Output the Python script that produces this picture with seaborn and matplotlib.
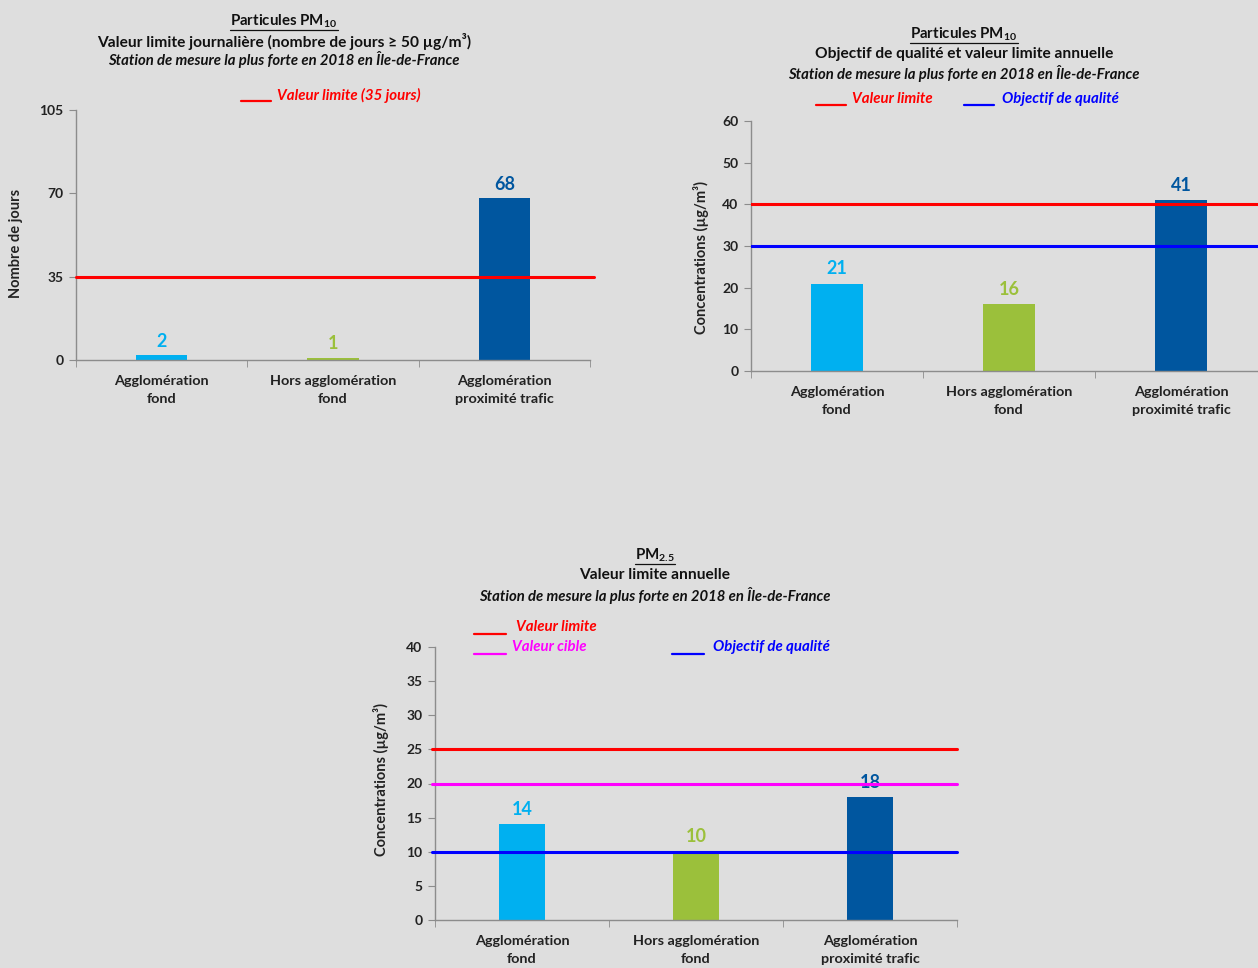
import matplotlib
matplotlib.use("Agg")
import matplotlib.pyplot as plt
import seaborn as sns
import pandas as pd
from matplotlib.lines import Line2D

# ---------------- data ----------------
categories = ["Agglomération\nfond", "Hors agglomération\nfond", "Agglomération\nproximité trafic"]
bar_colors = ["#00B0F0", "#9BC03B", "#00569F"]

pm10_days = [2, 1, 68]
pm10_days_limit = 35
pm10_days_ticks = [0, 35, 70, 105]

pm10_annual = [21, 16, 41]
pm10_annual_limit = 40
pm10_annual_quality = 30
pm10_annual_ticks = [0, 10, 20, 30, 40, 50, 60]

pm25_annual = [14, 10, 18]
pm25_limit = 25
pm25_target = 20
pm25_quality = 10
pm25_ticks = [0, 5, 10, 15, 20, 25, 30, 35, 40]

# ---------------- style ----------------
BG = "#DEDEDE"
sns.set_style("ticks")
plt.rcParams["font.family"] = ["Lato", "DejaVu Sans"]
plt.rcParams["mathtext.fontset"] = "custom"
plt.rcParams["mathtext.rm"] = "Lato:bold"
plt.rcParams["mathtext.it"] = "Lato:bold:italic"
plt.rcParams["mathtext.bf"] = "Lato:bold"

W, H = 1258, 968
fig = plt.figure(figsize=(W / 100, H / 100), dpi=100, facecolor=BG)


def rect(x0, y_top, x1, y_bottom):
    return [x0 / W, 1 - y_bottom / H, (x1 - x0) / W, (y_bottom - y_top) / H]


def fx(x):
    return x / W


def fy(y):
    return 1 - y / H


def draw(ax, values, ticks, ylabel, ylabel_xy, width=0.3, label_offset=12):
    df = pd.DataFrame({"cat": categories, "val": values})
    sns.barplot(data=df, x="cat", y="val", hue="cat", palette=bar_colors,
                width=width, legend=False, ax=ax, saturation=1, errorbar=None,
                linewidth=0)
    ax.set_facecolor(BG)
    ax.set_xlim(-0.5, 2.5)
    ax.set_ylim(ticks[0], ticks[-1])
    ax.set_yticks(ticks)
    ax.set_xlabel("")
    ax.set_ylabel(ylabel, fontsize=10.5, fontweight="bold", color="#222222")
    ax.yaxis.set_label_coords(*ylabel_xy)
    for s in ["top", "right"]:
        ax.spines[s].set_visible(False)
    for s in ["left", "bottom"]:
        ax.spines[s].set_color("#8C8C8C")
        ax.spines[s].set_linewidth(1.0)
    ax.set_xticks([-0.5, 0.5, 1.5, 2.5], minor=True)
    ax.tick_params(axis="x", which="major", length=0, pad=11, labelsize=10.4, labelcolor="#222222")
    ax.tick_params(axis="x", which="minor", length=5, color="#8C8C8C", direction="out")
    ax.tick_params(axis="y", length=5, color="#8C8C8C", direction="out", pad=4,
                   labelsize=10, labelcolor="#222222")
    for lab in ax.get_xticklabels():
        lab.set_fontweight("bold")
        lab.set_linespacing(1.55)
    for lab in ax.get_yticklabels():
        lab.set_fontweight("bold")
    for p, v, c in zip(ax.patches, values, bar_colors):
        ax.annotate(str(v), (p.get_x() + p.get_width() / 2, v), xytext=(0, label_offset),
                    textcoords="offset pixels", ha="center", va="center",
                    color=c, fontsize=13, fontweight="bold")


def titles(cx, ys, line1, line2, line3):
    t1 = fig.text(fx(cx), fy(ys[0]), line1, ha="center", va="center",
                  fontsize=10.8, fontweight="bold", color="#111111")
    fig.text(fx(cx), fy(ys[1]), line2, ha="center", va="center",
             fontsize=11.2, fontweight="bold", color="#111111")
    fig.text(fx(cx), fy(ys[2]), line3, ha="center", va="center",
             fontsize=10.7, fontweight="bold", style="italic", color="#111111")
    return t1


def legend_item(x0, x1, y_line, x_text, y_text, text, color):
    fig.add_artist(Line2D([fx(x0), fx(x1)], [fy(y_line), fy(y_line)],
                          transform=fig.transFigure, color=color, lw=1.6))
    fig.text(fx(x_text), fy(y_text), text, ha="left", va="center", color=color,
             fontsize=10.8, fontweight="bold", style="italic")


# ---------------- top-left ----------------
ax1 = fig.add_axes(rect(76, 110, 590, 360))
draw(ax1, pm10_days, pm10_days_ticks, "Nombre de jours", (-0.104, 0.468),
     width=0.3, label_offset=14)
ax1.axhline(pm10_days_limit, xmin=0, xmax=1.008, color="#FF0000", lw=2.2, clip_on=False, zorder=3)
t_a = titles(284, (21, 41, 60), r"Particules PM$_{\mathrm{10}}$",
             "Valeur limite journalière (nombre de jours ≥ 50 µg/m³)",
             "Station de mesure la plus forte en 2018 en Île-de-France")
legend_item(241, 271, 101, 277, 95, "Valeur limite (35 jours)", "#FF0000")

# ---------------- top-right ----------------
ax2 = fig.add_axes(rect(751, 121, 1267, 371))
draw(ax2, pm10_annual, pm10_annual_ticks, "Concentrations (µg/m³)", (-0.082, 0.452),
     width=0.3, label_offset=15)
ax2.axhline(pm10_annual_limit, color="#FF0000", lw=2.2, zorder=3)
ax2.axhline(pm10_annual_quality, color="#0000FF", lw=2.2, zorder=3)
t_b = titles(964, (34, 54, 73), r"Particules PM$_{\mathrm{10}}$",
             "Objectif de qualité et valeur limite annuelle",
             "Station de mesure la plus forte en 2018 en Île-de-France")
legend_item(816, 846, 105, 852, 99, "Valeur limite", "#FF0000")
legend_item(964, 994, 105, 1002, 99, "Objectif de qualité", "#0000FF")

# ---------------- bottom ----------------
ax3 = fig.add_axes(rect(435, 647, 957, 920))
draw(ax3, pm25_annual, pm25_ticks, "Concentrations (µg/m³)", (-0.089, 0.513),
     width=0.27, label_offset=15)
ax3.axhline(pm25_limit, xmin=-0.006, xmax=1.0, color="#FF0000", lw=2.2, clip_on=False, zorder=3)
ax3.axhline(pm25_target, xmin=-0.006, xmax=1.0, color="#FF00FF", lw=2.2, clip_on=False, zorder=3)
ax3.axhline(pm25_quality, xmin=-0.006, xmax=1.0, color="#0000FF", lw=2.2, clip_on=False, zorder=3)
t_c = titles(655, (555, 575, 596), r"PM$_{\mathrm{2.5}}$",
             "Valeur limite annuelle",
             "Station de mesure la plus forte en 2018 en Île-de-France")
legend_item(474, 506, 634, 516, 627, "Valeur limite", "#FF0000")
legend_item(474, 506, 654, 512, 647, "Valeur cible", "#FF00FF")
legend_item(672, 704, 654, 713, 647, "Objectif de qualité", "#0000FF")

# underline the first title line of each chart
fig.canvas.draw()
renderer = fig.canvas.get_renderer()
for t in (t_a, t_b, t_c):
    bb = t.get_window_extent(renderer)
    y = bb.y0 - 0.5
    fig.add_artist(Line2D([bb.x0 / W, bb.x1 / W], [y / H, y / H],
                          transform=fig.transFigure, color="#111111", lw=0.9))

fig.savefig("out.png", dpi=100, facecolor=BG)
